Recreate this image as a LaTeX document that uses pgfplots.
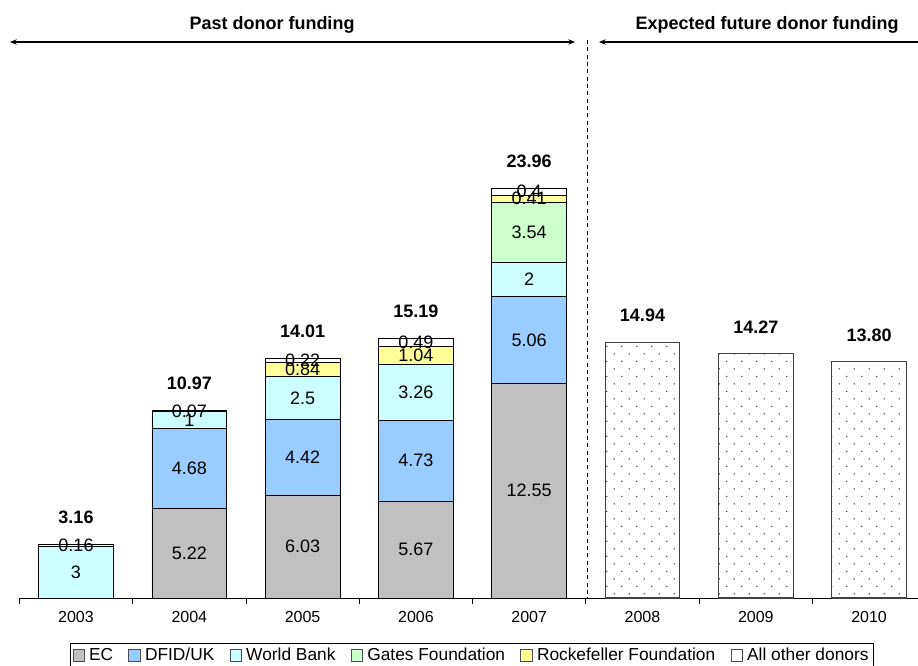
\documentclass[border=0pt]{standalone}
\usepackage{fontspec}
\setmainfont{Liberation Sans}
\usepackage{pgfplots}
\pgfplotsset{compat=1.18}
\usetikzlibrary{arrows.meta,patterns}
\definecolor{ecgray}{RGB}{192,192,192}
\definecolor{dfid}{RGB}{153,204,255}
\definecolor{wbank}{RGB}{204,255,255}
\definecolor{gates}{RGB}{204,255,204}
\definecolor{rock}{RGB}{255,255,153}
\pgfdeclarepatternformonly{sparsedots}{\pgfqpoint{0pt}{0pt}}{\pgfqpoint{11.6pt}{11.5pt}}{\pgfqpoint{11.6pt}{11.5pt}}{%
  \pgfpathcircle{\pgfqpoint{2.9pt}{2.9pt}}{0.6pt}%
  \pgfpathcircle{\pgfqpoint{8.7pt}{8.65pt}}{0.6pt}%
  \pgfusepath{fill}}

\pgfplotstableread{
x  ec     dfid  wb    gates rock  other fut
0  0      0     3     0     0     0.16  0
1  5.22   4.68  1     0     0     0.07  0
2  6.03   4.42  2.5   0     0.84  0.22  0
3  5.67   4.73  3.26  0     1.04  0.49  0
4  12.55  5.06  2     3.54  0.41  0.40  0
5  0      0     0     0     0     0     14.94
6  0      0     0     0     0     0     14.27
7  0      0     0     0     0     0     13.80
}\stacktable

\pgfplotstableread{
x  y       lab
0  1.5     3
0  3.08    0.16
1  2.61    5.22
1  7.56    4.68
1  10.4    1
1  10.935  0.07
2  3.015   6.03
2  8.24    4.42
2  11.7    2.5
2  13.37   0.84
2  13.9    0.22
3  2.835   5.67
3  8.035   4.73
3  12.03   3.26
3  14.18   1.04
3  14.945  0.49
4  6.275   12.55
4  15.08   5.06
4  18.61   2
4  21.38   3.54
4  23.355  0.41
4  23.76   0.4
}\segtable

\pgfplotstableread{
x  y      lab
0  3.16   3.16
1  10.97  10.97
2  14.01  14.01
3  15.19  15.19
4  23.96  23.96
5  14.94  14.94
6  14.27  14.27
7  13.80  13.80
}\tottable

\pgfplotsset{
  myaxis/.style={
    at={(14.5125pt,-448.5pt)}, anchor=south west,
    scale only axis, x=84.975pt, y=12.83pt,
    xmin=-0.5, xmax=7.44, ymin=0, ymax=35,
    clip=false,
  }
}

\begin{document}
\begin{tikzpicture}
\path[use as bounding box] (0,0) rectangle (688.5pt,-499.5pt);
\begin{axis}[
  myaxis,
  axis x line=bottom, axis y line=none,
  axis line style={-, black, line width=0.6pt},
  ybar stacked, bar width=0.66,
  xtick={0,...,7}, xticklabels={2003,2004,2005,2006,2007,2008,2009,2010},
  major tick length=0pt, tick align=outside,
  extra x ticks={-0.5,0.5,1.5,2.5,3.5,4.5,5.5,6.5},
  extra x tick labels={},
  extra x tick style={major tick length=4.5pt, tick style={black, line width=0.6pt}},
  xticklabel style={font=\fontsize{12}{14}\selectfont, anchor=center, yshift=-14.25pt},
  legend columns=6,
  legend style={at={(0.503,-0.0751)}, anchor=north, draw=black, line width=0.5pt,
    font=\fontsize{13}{15}\selectfont, inner sep=1.5pt,
    /tikz/every odd column/.append style={column sep=1.5pt},
    /tikz/every even column/.append style={column sep=9.5pt}},
  legend image code/.code={\draw[#1, draw=black!70, line width=0.5pt] (0pt,-4.2pt) rectangle (8.4pt,4.2pt);},
  legend cell align=left,
]
\addplot[fill=ecgray, draw=black, line width=0.5pt] table[x=x, y=ec] {\stacktable};
\addplot[fill=dfid, draw=black, line width=0.5pt] table[x=x, y=dfid] {\stacktable};
\addplot[fill=wbank, draw=black, line width=0.5pt] table[x=x, y=wb] {\stacktable};
\addplot[fill=gates, draw=black, line width=0.5pt] table[x=x, y=gates] {\stacktable};
\addplot[fill=rock, draw=black, line width=0.5pt] table[x=x, y=rock] {\stacktable};
\addplot[fill=white, draw=black, line width=0.5pt] table[x=x, y=other] {\stacktable};
\addplot[forget plot, fill=white, draw=black!75, line width=0.8pt, postaction={pattern=sparsedots, pattern color=black!75}] table[x=x, y=fut] {\stacktable};
\legend{EC, DFID/UK, World Bank, Gates Foundation, Rockefeller Foundation, All other donors}
\end{axis}
\begin{axis}[myaxis, hide axis]
\addplot[only marks, mark=none, nodes near coords, point meta=explicit symbolic,
  nodes near coords style={anchor=center, font=\fontsize{13.5}{15}\selectfont, inner sep=0pt}]
  table[x=x, y=y, meta=lab] {\segtable};
\addplot[only marks, mark=none, nodes near coords, point meta=explicit symbolic,
  nodes near coords style={anchor=center, yshift=20.25pt, font=\bfseries\fontsize{13.5}{15}\selectfont, inner sep=0pt}]
  table[x=x, y=y, meta=lab] {\tottable};
\end{axis}
\begin{scope}[x=0.75pt, y=-0.75pt]
  \draw[black, line width=0.5pt, dash pattern=on 3pt off 2.5pt] (587,40) -- (587,598);
  \draw[line width=0.8pt, {Stealth[length=5pt,width=4pt]}-{Stealth[length=5pt,width=4pt]}] (10,42) -- (575,42);
  \draw[line width=0.8pt, {Stealth[length=5pt,width=4pt]}-] (599,42) -- (930,42);
  \node[font=\bfseries\fontsize{13.5}{15}\selectfont] at (272,25) {Past donor funding};
  \node[font=\bfseries\fontsize{13.5}{15}\selectfont] at (767,25) {Expected future donor funding};
\end{scope}
\end{tikzpicture}
\end{document}
